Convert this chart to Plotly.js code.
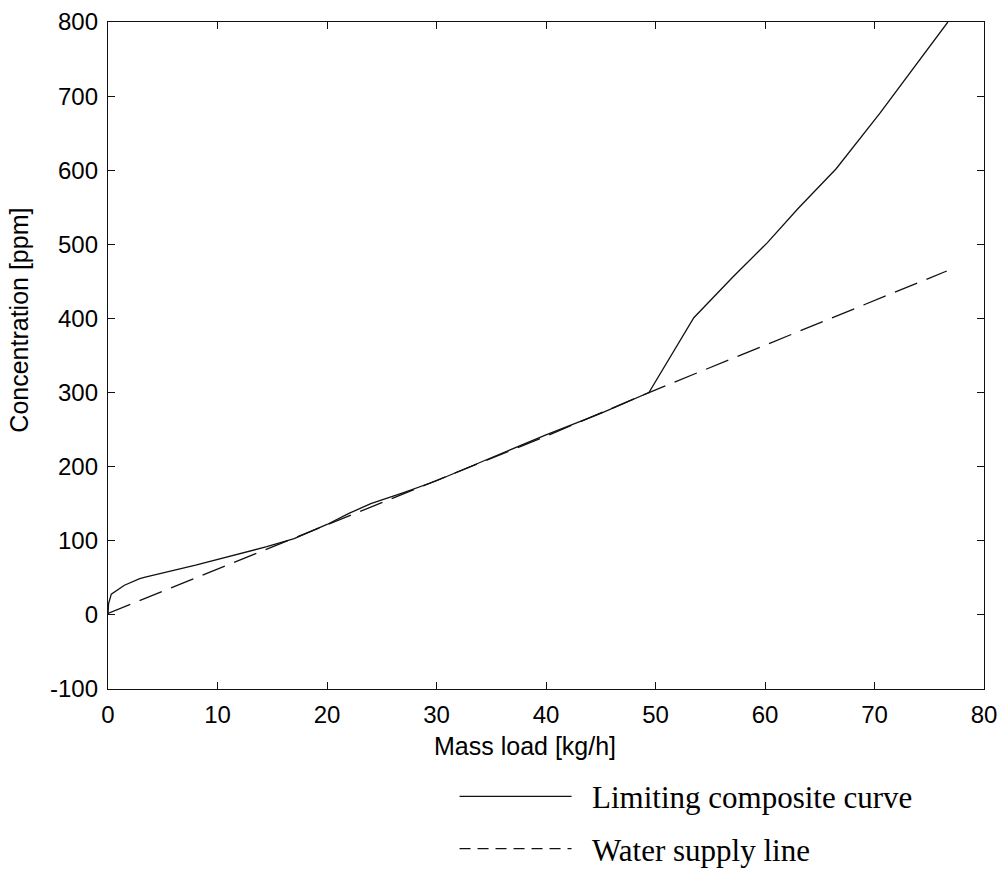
<!DOCTYPE html>
<html>
<head>
<meta charset="utf-8">
<script src="https://cdn.plot.ly/plotly-3.0.1.min.js"></script>
<style>
html,body{margin:0;padding:0;background:#fff;}
#chart{width:1003px;height:888px;}
</style>
</head>
<body>
<div id="chart"></div>
<script>
// Limiting composite curve
const limitingX = [0, 0.05, 0.3, 1.5, 2.9, 3.4, 8, 14.5, 17, 20, 22, 24, 27, 30, 35, 40, 45, 49.4, 53.5, 57, 60.2, 63, 66.5, 70.5, 76.7];
const limitingY = [0, 15, 28, 40, 49, 51, 67, 92, 103, 122, 137, 150, 165, 181, 212, 243, 272, 300, 401, 455, 502, 548, 602, 677, 800];
// Water supply line
const supplyX = [0, 20, 40, 49.4, 60, 70, 76.6];
const supplyY = [2, 121, 241, 300, 364, 424, 464];

const seriesNames = ['Limiting composite curve', 'Water supply line'];
const xTicks = [0, 10, 20, 30, 40, 50, 60, 70, 80];
const yTicks = [-100, 0, 100, 200, 300, 400, 500, 600, 700, 800];
const xTitle = 'Mass load [kg/h]';
const yTitle = 'Concentration [ppm]';

const sans = 'Liberation Sans, Arial, Helvetica, sans-serif';
const serif = 'Liberation Serif, Times New Roman, serif';
const pad = '\u00a0\u00a0';

const traces = [
  {x: limitingX, y: limitingY, mode: 'lines', showlegend: false,
   line: {color: '#111', width: 1.3}},
  {x: supplyX, y: supplyY, mode: 'lines', showlegend: false,
   line: {color: '#111', width: 1.3, dash: '24px,10px'}},
  // legend entries (no data drawn in the plot area)
  {x: [null], y: [null], mode: 'lines', name: pad + seriesNames[0], legendgroup: 'a',
   line: {color: '#111', width: 1.3}},
  {x: [null], y: [null], mode: 'lines', name: pad + seriesNames[1], legendgroup: 'b',
   line: {color: '#111', width: 1.3, dash: '11px,7px'}}
];

const axisCommon = {
  showgrid: false, zeroline: false, showline: true, mirror: 'ticks',
  linecolor: '#111', linewidth: 1.2, ticks: 'inside', ticklen: 7, tickwidth: 1,
  tickcolor: '#111', tickfont: {family: sans, size: 24, color: '#000'}
};

const layout = {
  width: 1003, height: 888,
  margin: {l: 108, r: 19, t: 22, b: 197},
  paper_bgcolor: '#fff', plot_bgcolor: '#fff',
  showlegend: true,
  legend: {x: 0.3956, y: -0.121, xanchor: 'left', yanchor: 'top', traceorder: 'grouped',
           tracegroupgap: 9, itemwidth: 112,
           font: {family: serif, size: 31, color: '#000'},
           bgcolor: 'rgba(0,0,0,0)'},
  xaxis: Object.assign({}, axisCommon, {
    range: [0, 80], tickvals: xTicks, ticktext: xTicks.map(String), ticklabelstandoff: 4
  }),
  yaxis: Object.assign({}, axisCommon, {
    range: [-100, 800], tickvals: yTicks, ticktext: yTicks.map(String), ticklabelstandoff: 4
  }),
  annotations: [
    {text: xTitle, xref: 'paper', yref: 'paper', x: 0.476, y: -0.085, xanchor: 'center', yanchor: 'middle',
     showarrow: false, font: {family: sans, size: 25, color: '#000'}},
    {text: yTitle, xref: 'paper', yref: 'paper', x: -0.101, y: 0.553, xanchor: 'center', yanchor: 'middle',
     textangle: -90, showarrow: false, font: {family: sans, size: 25, color: '#000'}}
  ]
};

Plotly.newPlot('chart', traces, layout, {displayModeBar: false, staticPlot: true});
</script>
</body>
</html>
